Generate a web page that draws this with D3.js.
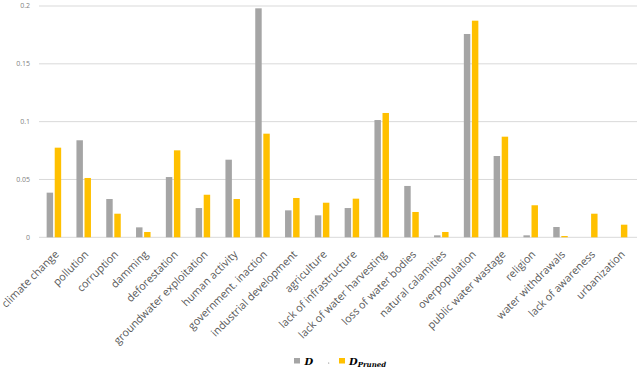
<!DOCTYPE html>
<html>
<head>
<meta charset="utf-8">
<script src="https://cdn.jsdelivr.net/npm/d3@7"></script>
<style>
  html, body { margin: 0; padding: 0; background: #fff; }
  svg text { font-family: "Open Sans", "Liberation Sans", sans-serif; fill: #595959; }
</style>
</head>
<body>
<svg id="chart" width="640" height="371"></svg>
<script>
'use strict';

var categories = ['climate change', 'pollution', 'corruption', 'damming', 'deforestation',
  'groundwater exploitation', 'human activity', 'government. inaction', 'industrial development',
  'agriculture', 'lack of infrastructure', 'lack of water harvesting', 'loss of water bodies',
  'natural calamities', 'overpopulation', 'public water wastage', 'religion', 'water withdrawals',
  'lack of awareness', 'urbanization'];

var seriesD = [0.0386, 0.0839, 0.0331, 0.0086, 0.0521, 0.0253, 0.0671, 0.198, 0.0233, 0.019,
  0.0253, 0.1014, 0.0444, 0.0017, 0.1758, 0.0703, 0.0017, 0.0089, 0, 0];

var seriesPruned = [0.0775, 0.0513, 0.0204, 0.0046, 0.0752, 0.0368, 0.0331, 0.0896, 0.034, 0.0299,
  0.0334, 0.1075, 0.0219, 0.0046, 0.1873, 0.087, 0.0277, 0.0011, 0.0204, 0.0109];

var yTicks = [0, 0.05, 0.1, 0.15, 0.2];
var seriesKeys = ['D', 'Pruned'];

(function () {
  var colors = {D: '#a5a5a5', Pruned: '#ffc000'},
      svg = d3.select('#chart'),
      plotLeft = 39,
      plotRight = 635,
      plotTop = 6,
      plotBottom = 237.3;

  var x0 = d3.scaleBand().domain(categories).range([plotLeft, plotRight])
    .paddingInner(0.513).paddingOuter(0.2567);
  var x1 = d3.scaleBand().domain(seriesKeys).range([0, x0.bandwidth()]).paddingInner(0.2);
  var y = d3.scaleLinear().domain([0, 0.2]).range([plotBottom, plotTop]);

  // gridlines
  svg.append('g').selectAll('line').data(yTicks).enter().append('line')
    .attr('x1', plotLeft).attr('x2', 637)
    .attr('y1', function (d) { return y(d); })
    .attr('y2', function (d) { return y(d); })
    .attr('stroke', '#d9d9d9').attr('stroke-width', 1);

  // y labels
  svg.append('g').selectAll('text').data(yTicks).enter().append('text')
    .attr('x', 30).attr('y', function (d) { return y(d); })
    .attr('dy', '0.35em')
    .attr('text-anchor', 'end')
    .style('font-size', '7px')
    .style('fill', '#7f7f7f')
    .text(function (d) { return String(d); });

  var rows = categories.map(function (c, i) {
    return {cat: c, D: seriesD[i], Pruned: seriesPruned[i]};
  });

  var groups = svg.append('g').selectAll('g').data(rows).enter().append('g')
    .attr('transform', function (d) { return 'translate(' + x0(d.cat) + ',0)'; });

  groups.selectAll('rect').data(function (d) {
    return seriesKeys.map(function (k) { return {key: k, value: d[k]}; });
  }).enter().append('rect')
    .attr('x', function (d) { return x1(d.key); })
    .attr('width', x1.bandwidth())
    .attr('y', function (d) { return y(d.value); })
    .attr('height', function (d) { return y(0) - y(d.value); })
    .attr('fill', function (d) { return colors[d.key]; });

  // category labels, rotated 45 degrees
  svg.append('g').selectAll('text').data(categories).enter().append('text')
    .attr('transform', function (d) {
      return 'translate(' + (x0(d) + x0.bandwidth() / 2 + 5.5) + ',255) rotate(-45)';
    })
    .attr('text-anchor', 'end')
    .style('font-size', '10.75px')
    .text(function (d) { return d; });

  // legend
  var legend = svg.append('g');
  legend.append('rect').attr('x', 294).attr('y', 358).attr('width', 6).attr('height', 5.5).attr('fill', colors.D);
  legend.append('text').attr('x', 304.5).attr('y', 364.5)
    .style('font-family', '"DejaVu Serif", serif').style('font-style', 'italic').style('font-weight', 'bold')
    .style('font-size', '10px').style('fill', '#000').text('D');
  legend.append('circle').attr('cx', 328.7).attr('cy', 363).attr('r', 0.6).attr('fill', '#777');
  legend.append('rect').attr('x', 339).attr('y', 358).attr('width', 6).attr('height', 5.5).attr('fill', colors.Pruned);
  var lt = legend.append('text').attr('x', 349).attr('y', 364.5)
    .style('font-family', '"DejaVu Serif", serif').style('font-style', 'italic').style('font-weight', 'bold')
    .style('font-size', '10px').style('fill', '#000');
  lt.append('tspan').text('D');
  lt.append('tspan').attr('dy', 2.5).style('font-size', '7px').text('Pruned');
})();
</script>
</body>
</html>
